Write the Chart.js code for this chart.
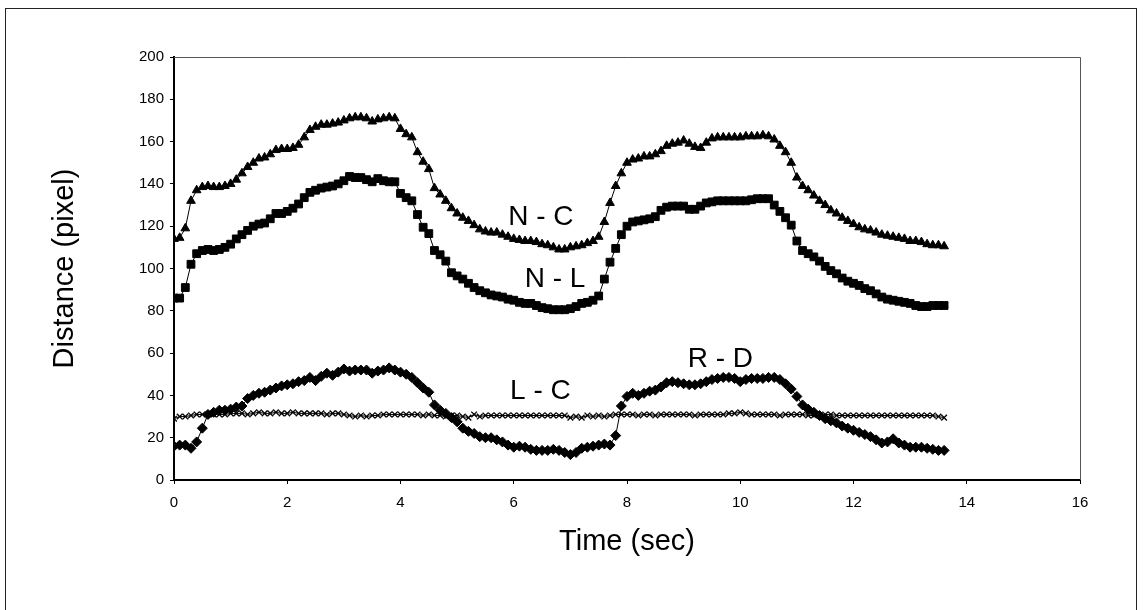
<!DOCTYPE html>
<html>
<head>
<meta charset="utf-8">
<script src="https://cdn.jsdelivr.net/npm/chart.js@4/dist/chart.umd.min.js"></script>
<style>
  body { margin: 0; background: #fff; }
  canvas { display: block; }
</style>
</head>
<body>
<canvas id="distChart" width="1143" height="610"></canvas>
<script>
// time (sec), one sample every 0.1 s
const times = [
  0, 0.1, 0.2, 0.3, 0.4, 0.5, 0.6, 0.7, 0.8, 0.9,
  1, 1.1, 1.2, 1.3, 1.4, 1.5, 1.6, 1.7, 1.8, 1.9,
  2, 2.1, 2.2, 2.3, 2.4, 2.5, 2.6, 2.7, 2.8, 2.9,
  3, 3.1, 3.2, 3.3, 3.4, 3.5, 3.6, 3.7, 3.8, 3.9,
  4, 4.1, 4.2, 4.3, 4.4, 4.5, 4.6, 4.7, 4.8, 4.9,
  5, 5.1, 5.2, 5.3, 5.4, 5.5, 5.6, 5.7, 5.8, 5.9,
  6, 6.1, 6.2, 6.3, 6.4, 6.5, 6.6, 6.7, 6.8, 6.9,
  7, 7.1, 7.2, 7.3, 7.4, 7.5, 7.6, 7.7, 7.8, 7.9,
  8, 8.1, 8.2, 8.3, 8.4, 8.5, 8.6, 8.7, 8.8, 8.9,
  9, 9.1, 9.2, 9.3, 9.4, 9.5, 9.6, 9.7, 9.8, 9.9,
  10, 10.1, 10.2, 10.3, 10.4, 10.5, 10.6, 10.7, 10.8, 10.9,
  11, 11.1, 11.2, 11.3, 11.4, 11.5, 11.6, 11.7, 11.8, 11.9,
  12, 12.1, 12.2, 12.3, 12.4, 12.5, 12.6, 12.7, 12.8, 12.9,
  13, 13.1, 13.2, 13.3, 13.4, 13.5, 13.6
];

// N - C (triangles)
const nc = [
  114, 114.5, 119, 132, 137, 138.5, 139, 138.5, 138.5, 139,
  140, 142, 145, 148, 150, 152, 152.5, 154, 156, 156.5,
  156.5, 157, 158.5, 162, 165.5, 167, 168, 168, 168.5, 169,
  170, 171, 171.5, 171.5, 171, 169.5, 170.5, 171, 171.5, 171,
  166, 163.5, 162, 155, 150.5, 147, 138, 135, 132, 128.5,
  126, 124, 122.5, 120.5, 118.5, 117.5, 117, 117, 116, 115,
  114, 113.5, 113, 113, 112.5, 111.5, 111, 110, 109, 109,
  110, 110.5, 111, 112, 113, 115, 122, 131, 139, 145,
  150, 151.5, 152, 153, 153, 154, 155.5, 158, 159, 159.5,
  160.5, 159, 157.5, 157, 159.5, 161.5, 162, 162, 162, 162,
  162, 162.5, 162.5, 162.5, 163, 162.5, 161, 158, 155, 150,
  143, 139, 137, 134.5, 132, 130, 127.5, 126, 124, 122.5,
  121, 119.5, 118.5, 118, 117, 116, 115.5, 115, 114.5, 114,
  113, 113, 112.5, 111.5, 111, 111, 110.5
];

// N - L (squares)
const nl = [
  86, 86, 91, 102, 107, 108.5, 109, 108.5, 109, 110,
  111.5, 114, 116, 118, 120, 121, 121.5, 123.5, 126, 126,
  127, 128.5, 130.5, 133.5, 136, 137, 138, 138.5, 139, 140,
  141.5, 143.5, 143, 143, 142, 141, 142.5, 141.5, 141, 141,
  135.5, 133.5, 132, 125.5, 119.5, 116.5, 108.5, 106.5, 103.5, 98,
  96.5, 95, 93, 91, 89.5, 88.5, 87.5, 87, 86.5, 85.5,
  85, 84, 83.5, 83.5, 82.5, 81.5, 81, 80.5, 80.5, 80.5,
  81, 82, 83.5, 84, 85, 87, 95, 103, 109.5, 116,
  120, 122, 122.5, 123, 123.5, 124.5, 127.5, 129, 129.5, 129.5,
  129.5, 128, 128, 129.5, 131, 131.5, 132, 132, 132, 132,
  132, 132, 132.5, 133, 133, 133, 130, 127, 124, 120.5,
  113, 108.5, 107, 105.5, 103.5, 101, 99, 97.5, 95.5, 94,
  93, 92, 90.5, 89.5, 88, 86.5, 85.5, 85, 84.5, 84,
  83.5, 82.5, 82, 82, 82.5, 82.5, 82.5
];

// R - D (diamonds)
const rd = [
  16, 16.5, 16.5, 15, 18, 24.5, 31, 32, 33, 33,
  33.5, 34.5, 35, 38.5, 40, 41, 41.5, 42.5, 43.5, 44.5,
  45, 45.5, 46.5, 47, 48.5, 47, 49, 50.5, 49.5, 51,
  52.5, 51.5, 52, 52, 52, 50.5, 51.5, 52, 53, 52,
  51, 50, 48.5, 46, 43.5, 41.5, 35.5, 33, 31.5, 29.5,
  27.5, 24.5, 23, 22, 20.5, 20, 20, 19, 18, 16.5,
  15.5, 16, 15.5, 14.5, 14, 14, 14, 14.5, 14, 13,
  12, 13, 15, 15.5, 16, 16.5, 17, 16.5, 21, 35,
  39.5, 41, 40, 41, 42, 42.5, 44, 46, 46.5, 46,
  45.5, 45, 45, 45.5, 46.5, 47.5, 48, 48.5, 48.5, 48,
  46.5, 47.5, 48, 48, 48, 48.5, 48.5, 47.5, 45.5, 43,
  39.5, 35.5, 33.5, 32, 30.5, 29, 28, 27, 25.5, 24.5,
  23.5, 22.5, 21.5, 20.5, 19, 17.5, 18, 19.5, 17.5, 16.5,
  15.5, 15.5, 15.5, 15, 14.5, 14, 14
];

// L - C (crosses)
const lc = [
  29, 30, 30, 30.5, 31, 31, 31, 31, 31, 31,
  31.5, 31.5, 31.5, 31, 31.5, 32, 31.5, 31.5, 32, 31.5,
  31.5, 32, 31.5, 31.5, 31.5, 31.5, 31.5, 31, 31.5, 31.5,
  31, 30.5, 30, 30.5, 30, 30.5, 30.5, 31, 31, 31,
  31, 31, 31, 31, 30.5, 31, 30.5, 30.5, 30, 30.5,
  30.5, 30, 29.5, 31, 30, 30.5, 30.5, 30.5, 30.5, 30.5,
  30.5, 30.5, 30.5, 30.5, 30.5, 30.5, 30.5, 30.5, 30.5, 30.5,
  29.5, 30, 29.5, 30.5, 30, 30.5, 30, 30.5, 31, 31,
  31, 31, 30.5, 31, 31, 30.5, 31, 31, 31, 31,
  31, 31, 30.5, 31, 31, 31, 31, 31, 31.5, 31.5,
  32, 31.5, 31, 31, 31, 31, 31, 30.5, 31, 31,
  31, 31, 30.5, 30.5, 30.5, 31, 31, 30.5, 30.5, 30.5,
  30.5, 30.5, 30.5, 30.5, 30.5, 30.5, 30.5, 30.5, 30.5, 30.5,
  30.5, 30.5, 30.5, 30.5, 30.5, 30, 29.5
];

// in-plot curve labels (data coordinates)
const curveLabels = ['N - C', 'N - L', 'L - C', 'R - D'];
const labelTimes = [6.48, 6.73, 6.47, 9.65];
const labelValues = [124, 95, 42, 57];

const xTicks = [0, 2, 4, 6, 8, 10, 12, 14, 16];
const yTicks = [0, 20, 40, 60, 80, 100, 120, 140, 160, 180, 200];

const toPoints = (vals) => vals.map((v, i) => ({ x: times[i], y: v }));

const frame = {
    id: 'frame',
    beforeDraw(chart) {
        const ctx = chart.ctx;
        ctx.save();
        ctx.fillStyle = '#fff';
        ctx.fillRect(0, 0, chart.width, chart.height);
        ctx.strokeStyle = '#222';
        ctx.lineWidth = 1;
        ctx.strokeRect(5.5, 8.5, 1131, 700);
        ctx.restore();
    },
    afterDraw(chart) {
        const a = chart.chartArea;
        const ctx = chart.ctx;
        ctx.save();
        ctx.strokeStyle = '#555';
        ctx.lineWidth = 1;
        ctx.beginPath();
        ctx.moveTo(a.left, a.top + 0.5);
        ctx.lineTo(a.right + 0.5, a.top + 0.5);
        ctx.lineTo(a.right + 0.5, a.bottom);
        ctx.stroke();
        ctx.restore();
    }
};

const curveText = {
    id: 'curveText',
    afterDatasetsDraw(chart) {
        const ctx = chart.ctx;
        const xs = chart.scales.x, ys = chart.scales.y;
        ctx.save();
        ctx.fillStyle = '#000';
        ctx.font = '28px "Liberation Sans", Arial, sans-serif';
        ctx.textAlign = 'center';
        ctx.textBaseline = 'middle';
        curveLabels.forEach((txt, i) => {
            ctx.fillText(txt, xs.getPixelForValue(labelTimes[i]), ys.getPixelForValue(labelValues[i]));
        });
        ctx.restore();
    }
};

const base = { borderColor: '#000', backgroundColor: '#000', borderWidth: 1,
    pointBackgroundColor: '#000', pointBorderColor: '#000', tension: 0 };

new Chart(document.getElementById('distChart'), {
    type: 'line',
    data: {
        datasets: [
            { ...base, label: 'N - C', data: toPoints(nc), pointStyle: 'triangle', pointRadius: 5, pointBorderWidth: 1 },
            { ...base, label: 'N - L', data: toPoints(nl), pointStyle: 'rect', pointRadius: 5.5, pointBorderWidth: 1 },
            { ...base, label: 'R - D', data: toPoints(rd), pointStyle: 'rectRot', pointRadius: 5, pointBorderWidth: 1 },
            { ...base, label: 'L - C', data: toPoints(lc), pointStyle: 'crossRot', pointRadius: 4, pointBorderWidth: 1.3 }
        ]
    },
    options: {
        responsive: false,
        animation: false,
        devicePixelRatio: 1,
        layout: { padding: { left: 5, top: 57, right: 63, bottom: 0 } },
        plugins: { legend: { display: false }, tooltip: { enabled: false } },
        scales: {
            x: {
                type: 'linear',
                min: 0, max: 16,
                afterBuildTicks: (s) => { s.ticks = xTicks.map(v => ({ value: v })); },
                afterFit: (s) => { s.height = 130; },
                grid: { drawOnChartArea: false, color: '#000', tickLength: 4 },
                border: { color: '#000', width: 2 },
                ticks: { color: '#000', padding: 10, font: { family: 'Liberation Sans', size: 15 } },
                title: { display: true, text: 'Time (sec)', color: '#000',
                    font: { family: 'Liberation Sans', size: 29 }, padding: { top: 0, bottom: 51 } }
            },
            y: {
                min: 0, max: 200,
                afterBuildTicks: (s) => { s.ticks = yTicks.map(v => ({ value: v })); },
                afterFit: (s) => { s.width = 169; },
                grid: { drawOnChartArea: false, color: '#000', tickLength: 4 },
                border: { color: '#000', width: 2 },
                ticks: { color: '#000', padding: 6, font: { family: 'Liberation Sans', size: 15 } },
                title: { display: true, text: 'Distance (pixel)', color: '#000',
                    font: { family: 'Liberation Sans', size: 29 }, padding: { top: 43, bottom: 0 } }
            }
        }
    },
    plugins: [frame, curveText]
});
</script>
</body>
</html>
